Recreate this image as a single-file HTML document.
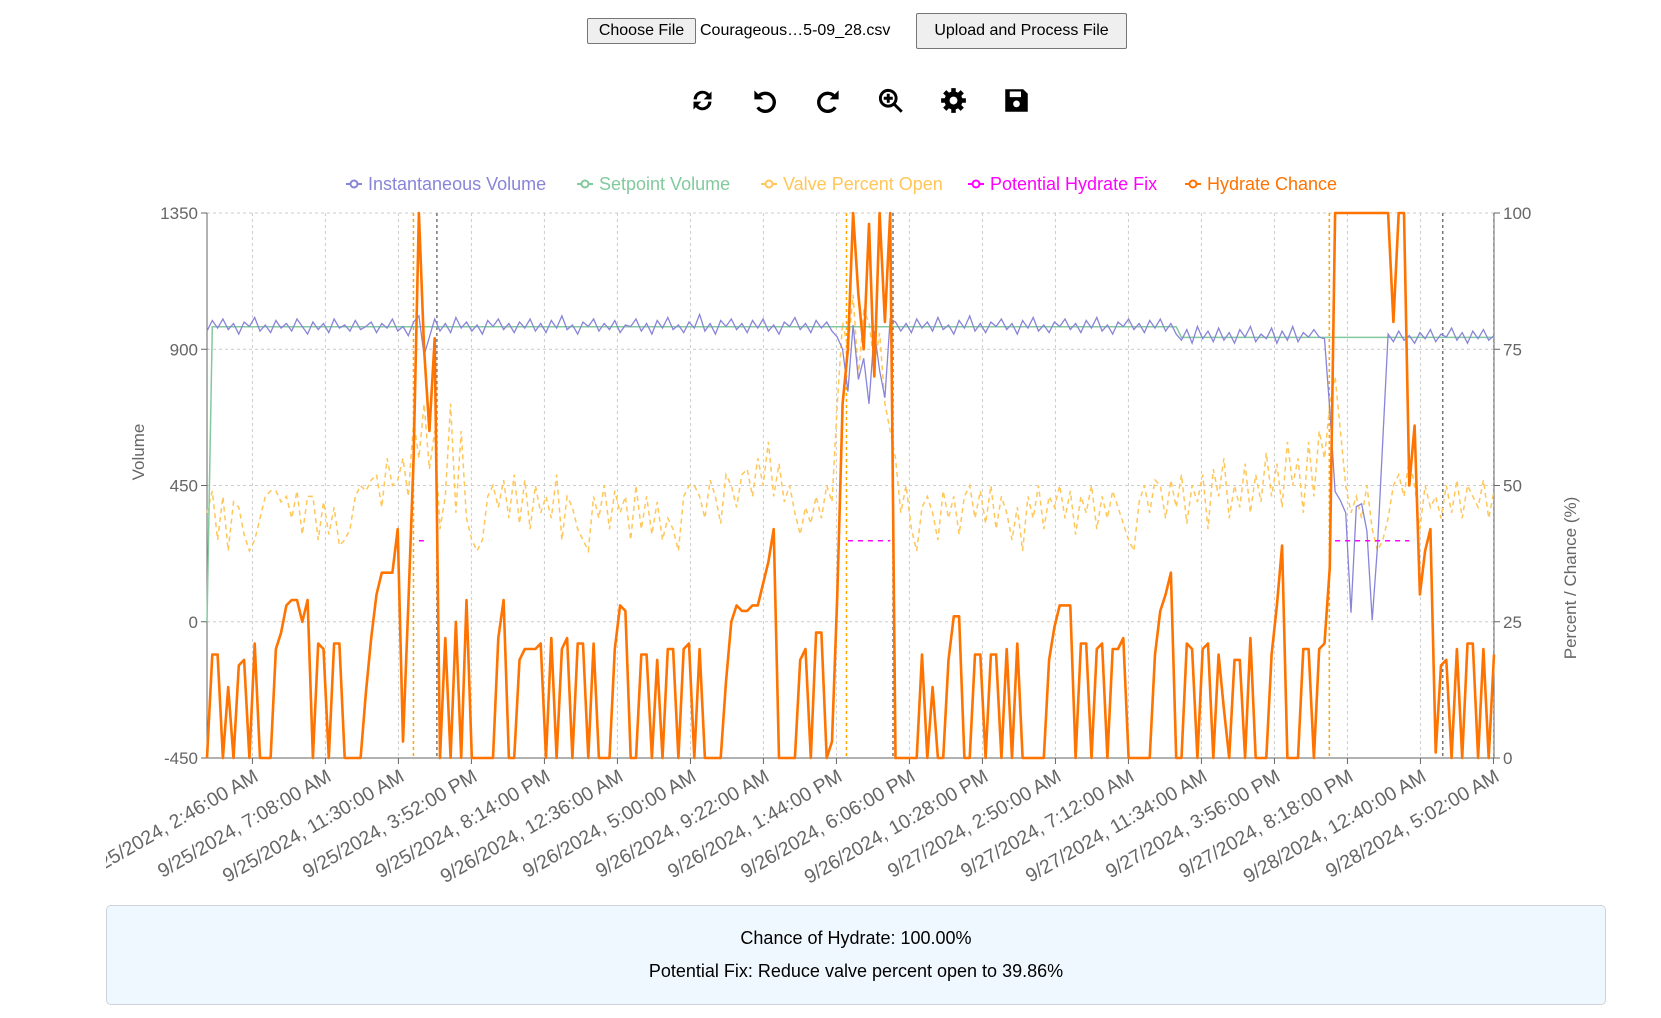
<!DOCTYPE html>
<html><head><meta charset="utf-8">
<style>
html,body{margin:0;padding:0;background:#fff;width:1661px;height:1018px;overflow:hidden;font-family:"Liberation Sans",sans-serif;}
.btn{position:absolute;background:#efefef;border:1px solid #767676;border-radius:2px;font-size:16px;color:#000;display:flex;align-items:center;justify-content:center;box-sizing:border-box;}
#fname{position:absolute;left:700px;top:20px;font-size:16px;line-height:22px;}
.icon{position:absolute;top:87px;width:27px;height:27px;}
#result{position:absolute;left:106px;top:905px;width:1500px;height:100px;background:#f0f8ff;border:1px solid #cdd3d8;border-radius:5px;box-sizing:border-box;text-align:center;font-size:18px;color:#000;}
#result div{position:absolute;left:0;right:0;}
</style></head><body>
<div class="btn" style="left:587px;top:18px;width:109px;height:26px;">Choose File</div>
<div id="fname">Courageous…5-09_28.csv</div>
<div class="btn" style="left:916px;top:13px;width:211px;height:36px;font-size:16px;">Upload and Process File</div>

<svg class="icon" style="left:689px" viewBox="0 0 24 24"><path d="M4 11a8 8 0 0 1 14-5l2-2v7h-7l3-3a5 5 0 0 0-9 3z M20 13a8 8 0 0 1-14 5l-2 2v-7h7l-3 3a5 5 0 0 0 9-3z" fill="#000"/></svg>
<svg class="icon" style="left:751px" viewBox="0 0 24 24"><path d="M7 8a8 8 0 1 1-1 10" stroke="#000" stroke-width="3" fill="none"/><path d="M3 3v8h8z" fill="#000"/></svg>
<svg class="icon" style="left:815px" viewBox="0 0 24 24"><path d="M17 8a8 8 0 1 0 1 10" stroke="#000" stroke-width="3" fill="none"/><path d="M21 3v8h-8z" fill="#000"/></svg>
<svg class="icon" style="left:877px" viewBox="0 0 24 24"><circle cx="10" cy="10" r="7" stroke="#000" stroke-width="2.6" fill="none"/><path d="M15 15l7 7M10 6v8M6 10h8" stroke="#000" stroke-width="2.6"/></svg>
<svg class="icon" style="left:940px" viewBox="0 0 24 24"><g fill="#000"><circle cx="12" cy="12" r="8"/><rect x="10" y="1" width="4" height="22"/><rect x="1" y="10" width="22" height="4"/><rect x="10" y="1" width="4" height="22" transform="rotate(45 12 12)"/><rect x="10" y="1" width="4" height="22" transform="rotate(-45 12 12)"/></g><circle cx="12" cy="12" r="3.5" fill="#fff"/></svg>
<svg class="icon" style="left:1003px" viewBox="0 0 24 24"><path d="M2 2h16l4 4v16H2z" fill="#000"/><rect x="6" y="4" width="10" height="5" fill="#fff"/><circle cx="12" cy="15" r="3" fill="#fff"/></svg>

<svg id="chart" width="1661" height="1018" style="position:absolute;left:0;top:0;"></svg>

<div id="result">
<div style="top:22px">Chance of Hydrate: 100.00%</div>
<div style="top:55px">Potential Fix: Reduce valve percent open to 39.86%</div>
</div>

<script>
const totalMinutes = 4619;
const tickMinutes = [163,425,687,949,1211,1473,1735,1997,2259,2521,2783,3045,3307,3569,3831,4093,4355,4617];
const tickLabels = ["9/25/2024, 2:46:00 AM","9/25/2024, 7:08:00 AM","9/25/2024, 11:30:00 AM","9/25/2024, 3:52:00 PM","9/25/2024, 8:14:00 PM","9/26/2024, 12:36:00 AM","9/26/2024, 5:00:00 AM","9/26/2024, 9:22:00 AM","9/26/2024, 1:44:00 PM","9/26/2024, 6:06:00 PM","9/26/2024, 10:28:00 PM","9/27/2024, 2:50:00 AM","9/27/2024, 7:12:00 AM","9/27/2024, 11:34:00 AM","9/27/2024, 3:56:00 PM","9/27/2024, 8:18:00 PM","9/28/2024, 12:40:00 AM","9/28/2024, 5:02:00 AM"];
const volumeTicks = [-450,0,450,900,1350];
const percentTicks = [0,25,50,75,100];
const hydrateChance = [0,19,19,0,13,0,17,18,0,21,0,0,0,20,23,28,29,29,25,29,
0,21,20,0,21,21,0,0,0,0,12,22,30,34,34,34,42,3,28,55,
100,75,60,77,0,22,0,25,0,29,0,0,0,0,0,22,29,0,0,18,
20,20,20,21,0,22,0,20,22,0,21,21,0,21,0,0,0,20,28,27,
0,0,19,19,0,18,0,20,20,0,20,21,0,20,0,0,0,0,14,25,
28,27,27,28,28,32,36,42,0,0,0,0,18,20,0,23,23,0,3,30,
65,75,100,85,75,98,70,100,80,100,0,0,0,0,0,19,0,13,0,0,
18,26,26,0,0,19,19,0,19,19,0,20,0,21,0,0,0,0,0,18,
24,28,28,28,0,21,21,0,20,21,0,20,20,22,0,0,0,0,0,19,
27,30,34,0,0,21,20,0,20,21,0,19,9,0,18,18,0,22,0,0,
0,19,28,39,0,0,0,20,20,0,20,21,35,100,100,100,100,100,100,100,
100,100,100,100,80,100,100,50,61,30,38,42,1,17,18,0,20,0,21,21,
0,20,0,19];
const instantaneousVolume = [960,995,970,1000,965,985,950,990,975,1005,960,980,955,995,970,985,960,1000,975,950,
990,965,985,955,1000,970,980,960,995,965,975,990,955,985,970,1000,960,975,945,990,
1010,880,940,1000,960,985,955,1005,970,990,960,980,950,995,975,1000,965,985,955,990,
970,1000,960,985,955,995,970,1010,965,980,950,990,975,1000,960,985,965,995,955,980,
975,1000,960,985,950,995,970,1005,965,980,955,990,970,1015,960,985,950,995,975,1000,
965,985,955,995,970,1000,960,980,950,990,975,1005,965,985,955,995,970,990,960,940,
900,760,980,800,870,720,960,830,740,1000,990,960,985,955,1000,970,990,960,1005,965,
980,950,995,970,1010,960,985,955,990,975,1000,965,985,950,995,970,1005,960,980,955,
990,975,1000,965,985,955,995,970,1005,960,980,950,990,975,1000,965,985,955,995,970,
1000,960,985,950,930,965,920,975,935,960,925,970,930,955,920,965,940,975,925,950,
935,970,920,960,930,975,925,955,940,965,940,935,700,430,400,360,30,380,390,300,
5,250,600,950,925,960,930,945,920,955,935,965,925,950,940,970,930,955,920,960,
935,965,930,945];
const setpointChangeIndex = 184;
const setpointLevels = [0,974,939];
const valvePercent = [45,49,40,48,38,47,46,41,38,40,44,48,49,49,47,48,44,49,41,48,
48,40,47,41,46,39,40,42,48,50,49,51,52,46,55,50,51,55,48,62,
55,65,53,60,42,48,65,45,60,44,40,38,40,48,50,46,51,44,52,43,
51,42,50,45,48,44,52,40,48,46,42,40,38,48,44,50,42,49,45,48,
40,50,42,48,41,47,40,44,42,38,48,50,50,48,44,51,48,43,52,50,
46,52,53,48,55,50,58,48,54,47,50,45,41,46,43,48,44,50,47,65,
80,75,85,70,82,80,72,78,65,60,55,45,50,42,38,46,48,45,40,49,
44,48,41,48,50,44,49,43,50,42,48,45,40,46,38,48,44,50,42,48,
46,50,44,49,41,48,45,50,42,48,44,49,46,43,40,38,47,50,45,51,
50,44,51,46,52,43,50,47,52,42,53,48,55,44,50,46,54,45,52,47,
56,48,54,46,58,50,55,45,58,48,60,55,65,70,60,50,45,48,44,50,
42,38,40,44,50,52,48,55,50,42,50,46,48,44,50,45,51,44,50,48,
46,51,44,49];
const fixValue = 39.86;
const fixRanges = [[40,41],[121,129],[213,227]];
const markerMinutes = [741,2295,4028];
const alertMinutes = [825,2462,4435];

const NS="http://www.w3.org/2000/svg";
const svg=document.getElementById('chart');
const L=207,R=1494,T=213,B=758;
const n=hydrateChance.length;
const xT=m=>L+m/totalMinutes*(R-L);
const xI=i=>L+i/(n-1)*(R-L);
const yV=v=>B-(v+450)/1800*(B-T);
const yP=p=>B-p/100*(B-T);
function mk(tag,attrs,parent){const e=document.createElementNS(NS,tag);for(const k in attrs)e.setAttribute(k,attrs[k]);(parent||svg).appendChild(e);return e;}
const defs=mk('defs',{});
const cp=mk('clipPath',{id:'lc'},defs);mk('rect',{x:106,y:0,width:1555,height:1018},cp);

const grid=mk('g',{});


volumeTicks.forEach(v=>{mk('line',{x1:L,x2:R,y1:yV(v),y2:yV(v),stroke:'#ccc','stroke-dasharray':'3 3'},grid);});
tickMinutes.forEach(m=>{mk('line',{x1:xT(m),x2:xT(m),y1:T,y2:B,stroke:'#ccc','stroke-dasharray':'3 3'},grid);});

const ax=mk('g',{fill:'#666','font-size':'17','font-family':'"Liberation Sans",sans-serif'});


mk('line',{x1:L,x2:L,y1:T,y2:B,stroke:'#666'},ax);
mk('line',{x1:R,x2:R,y1:T,y2:B,stroke:'#666'},ax);
mk('line',{x1:L,x2:R,y1:B,y2:B,stroke:'#666'},ax);
volumeTicks.forEach(v=>{mk('line',{x1:L-6,x2:L,y1:yV(v),y2:yV(v),stroke:'#666'},ax);const t=mk('text',{x:L-9,y:yV(v)+6,'text-anchor':'end'},ax);t.textContent=v;

});
percentTicks.forEach(p=>{mk('line',{x1:R,x2:R+6,y1:yP(p),y2:yP(p),stroke:'#666'},ax);const t=mk('text',{x:R+9,y:yP(p)+6},ax);t.textContent=p;

});
const xl=mk('g',{'clip-path':'url(#lc)','font-size':'19.5'},ax);
tickMinutes.forEach((m,i)=>{const x=xT(m);mk('line',{x1:x,x2:x,y1:B,y2:B+6,stroke:'#666'},ax);
const t=mk('text',{transform:`translate(${x+7},${B+22}) rotate(-30)`,'text-anchor':'end'},xl);t.textContent=tickLabels[i];

});
const yt=mk('text',{transform:'translate(144,452) rotate(-90)','text-anchor':'middle'},ax);yt.textContent='Volume';


const yt2=mk('text',{transform:'translate(1576,578) rotate(-90)','text-anchor':'middle'},ax);yt2.textContent='Percent / Chance (%)';



markerMinutes.forEach(m=>{const l=mk('line',{x1:xT(m),x2:xT(m),y1:T,y2:B,stroke:'#ffa500','stroke-dasharray':'3 3','stroke-width':1.5});

});
alertMinutes.forEach(m=>{const l=mk('line',{x1:xT(m),x2:xT(m),y1:T,y2:B,stroke:'#777','stroke-dasharray':'3 3','stroke-width':1.5});

});

function path(vals,xf,yf){let d='';vals.forEach((v,i)=>{if(v==null)return;d+=(d&&vals[i-1]!=null?'L':'M')+xf(i).toFixed(1)+','+yf(v).toFixed(1);});return d;}
const setpoint=instantaneousVolume.map((v,i)=>i===0?setpointLevels[0]:(i<setpointChangeIndex?setpointLevels[1]:setpointLevels[2]));
const fixSeries=hydrateChance.map((v,i)=>fixRanges.some(r=>i>=r[0]&&i<=r[1])?fixValue:null);

const pv=mk('path',{d:path(valvePercent,xI,yP),fill:'none',stroke:'#ffc658','stroke-width':1.5,'stroke-dasharray':'5 4'});


const ps=mk('path',{d:path(setpoint,xI,yV),fill:'none',stroke:'#82ca9d','stroke-width':1.5});


const pi=mk('path',{d:path(instantaneousVolume,xI,yV),fill:'none',stroke:'#8884d8','stroke-width':1.3});


const pf=mk('path',{d:path(fixSeries,xI,yP),fill:'none',stroke:'#ff00ff','stroke-width':1.5,'stroke-dasharray':'5 5'});


const ph=mk('path',{d:path(hydrateChance,xI,yP),fill:'none',stroke:'#ff7300','stroke-width':2.6,'stroke-linejoin':'round'});



const legendNames=['Instantaneous Volume','Setpoint Volume','Valve Percent Open','Potential Hydrate Fix','Hydrate Chance'];
const legendColors=['#8884d8','#82ca9d','#ffc658','#ff00ff','#ff7300'];
const legendX=[368,599,783,990,1207];
legendNames.forEach((nm,i)=>{const g=mk('g',{});


const x=legendX[i];
mk('line',{x1:x-22,x2:x-6,y1:184,y2:184,stroke:legendColors[i],'stroke-width':2},g);
mk('circle',{cx:x-14,cy:184,r:3.5,fill:'#fff',stroke:legendColors[i],'stroke-width':2},g);
const t=mk('text',{x:x,y:190,fill:legendColors[i],'font-size':18,'font-family':'"Liberation Sans",sans-serif'},g);t.textContent=nm;});
</script>
</body></html>
